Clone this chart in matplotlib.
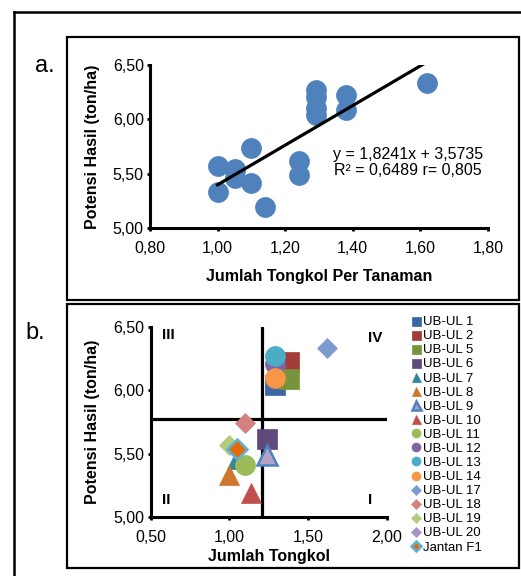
import numpy as np
import matplotlib as mpl
mpl.use('Agg')
import matplotlib.pyplot as plt
from matplotlib.patches import Rectangle
from matplotlib.lines import Line2D
from matplotlib.ticker import FuncFormatter

# -- DATA --------------------------------------------------------------------

genotypes = ['UB-UL 1', 'UB-UL 2', 'UB-UL 5', 'UB-UL 6', 'UB-UL 7', 'UB-UL 8',
             'UB-UL 9', 'UB-UL 10', 'UB-UL 11', 'UB-UL 12', 'UB-UL 13',
             'UB-UL 14', 'UB-UL 17', 'UB-UL 18', 'UB-UL 19', 'UB-UL 20',
             'Jantan F1']
tongkol = [1.29, 1.38, 1.38, 1.24, 1.05, 1.00, 1.24, 1.14, 1.10, 1.29, 1.29,
           1.29, 1.62, 1.10, 1.00, 1.05, 1.05]
hasil = [6.04, 6.22, 6.09, 5.62, 5.46, 5.33, 5.49, 5.19, 5.41, 6.21, 6.27,
         6.10, 6.33, 5.74, 5.57, 5.53, 5.54]

slope, intercept = 1.8241, 3.5735
r2, r = 0.6489, 0.805

# -- STYLE -------------------------------------------------------------------

W, H = 521, 576
plt.rcParams.update({
    'font.family': ['Liberation Sans', 'DejaVu Sans'],
    'font.size': 11.5,
    'axes.linewidth': 2.2,
    'xtick.major.width': 2.0,
    'ytick.major.width': 2.0,
    'xtick.major.size': 2.5,
    'ytick.major.size': 2.5,
    'xtick.labelsize': 11.5,
    'ytick.labelsize': 11.5,
})

markers = ['s', 's', 's', 's', '^', '^', '^', '^', 'o', 'o', 'o', 'o',
           'D', 'D', 'D', 'D', 'D']
faces = ['#3A67A3', '#A33B39', '#77933C', '#604A7B', '#31859C', '#CD772F',
         '#B3A2C7', '#C0504D', '#9BBB59', '#8064A2', '#4BACC6', '#F79646',
         '#7C9CCF', '#D4807E', '#B2CC7D', '#A593C4', '#E36C09']
edges = list(faces)
edges[6] = '#4F81BD'
edges[16] = '#5DB3D5'
edge_w = [0.5] * 17
edge_w[6] = 1.8
edge_w[16] = 1.8
sizes = {'s': 14.4, '^': 14.4, 'o': 14.4, 'D': 10.5}

comma = FuncFormatter(lambda v, p: f"{v:.2f}".replace('.', ','))


def px(x, y):
    return x / W, 1 - y / H


fig = plt.figure(figsize=(W / 100, H / 100), dpi=100)

# frames
fig.add_artist(Line2D([13.5 / W, 1.0], [1 - 12 / H, 1 - 12 / H],
                      transform=fig.transFigure, color='k', lw=1.8))
fig.add_artist(Line2D([13.5 / W, 13.5 / W], [1 - 12 / H, 0.0],
                      transform=fig.transFigure, color='k', lw=1.8))
for (x0, y0, x1, y1) in [(66.7, 37, 518.5, 299.5), (66.7, 303.5, 519, 568)]:
    fig.add_artist(Rectangle(px(x0, y1), (x1 - x0) / W, (y1 - y0) / H,
                             transform=fig.transFigure, fill=False,
                             ec='k', lw=1.6))

fig.text(35 / W, 1 - 71.7 / H, 'a.', fontsize=17, ha='left', va='baseline')
fig.text(25 / W, 1 - 339 / H, 'b.', fontsize=17, ha='left', va='baseline')

ax1 = fig.add_axes([150 / W, 1 - 228 / H, 338 / W, 163 / H])
ax2 = fig.add_axes([150.7 / W, 1 - 517.3 / H, 236 / W, 190.6 / H])

for ax in (ax1, ax2):
    ax.spines['top'].set_visible(False)
    ax.spines['right'].set_visible(False)
    ax.xaxis.set_major_formatter(comma)
    ax.yaxis.set_major_formatter(comma)
    ax.tick_params(axis='x', pad=7)
    ax.tick_params(axis='y', pad=2)
    ax.set_facecolor('none')

# -- PANEL A -----------------------------------------------------------------

ax1.plot(tongkol, hasil, 'o', ms=14.4, color='#4F81BD', mec='#4F81BD',
         mew=0.5, zorder=3)
xl = np.array([min(tongkol), max(tongkol)])
ax1.plot(xl, slope * xl + intercept, color='k', lw=2.3, zorder=4)
ax1.text(1.563, 5.60,
         f"y = {slope:.4f}x + {intercept:.4f}\nR² = {r2:.4f} r= {r:.3f}".replace('.', ','),
         ha='center', va='center', linespacing=1.1, fontsize=11.5)

ax1.set_xlim(0.8, 1.8)
ax1.set_xticks(np.arange(0.8, 1.81, 0.2))
ax1.set_ylim(5.0, 6.5)
ax1.set_yticks(np.arange(5.0, 6.51, 0.5))
ax1.set_xlabel('Jumlah Tongkol Per Tanaman', fontweight='bold', fontsize=11.5)
ax1.set_ylabel('Potensi Hasil (ton/ha)', fontweight='bold', fontsize=11.5)
ax1.xaxis.set_label_coords(0.5, -0.25)
ax1.yaxis.set_label_coords(-0.148, 0.5)

# -- PANEL B -----------------------------------------------------------------

for i, name in enumerate(genotypes):
    m = markers[i]
    ax2.plot([tongkol[i]], [hasil[i]], marker=m, ls='none', ms=sizes[m],
             mfc=faces[i], mec=edges[i], mew=edge_w[i], label=name,
             zorder=3 + i * 0.01)

ax2.axvline(np.mean(tongkol), color='k', lw=2.3, zorder=2)
ax2.axhline(np.mean(hasil), color='k', lw=2.3, zorder=2)

qfont = dict(fontweight='bold', fontsize=11, ha='center', va='center')
ax2.text(0.612, 6.435, 'III', **qfont)
ax2.text(1.926, 6.41, 'IV', **qfont)
ax2.text(0.602, 5.136, 'II', **qfont)
ax2.text(1.894, 5.136, 'I', **qfont)

ax2.set_xlim(0.5, 2.0)
ax2.set_xticks(np.arange(0.5, 2.01, 0.5))
ax2.set_ylim(5.0, 6.5)
ax2.set_yticks(np.arange(5.0, 6.51, 0.5))
ax2.set_xlabel('Jumlah Tongkol', fontweight='bold', fontsize=11.5)
ax2.set_ylabel('Potensi Hasil (ton/ha)', fontweight='bold', fontsize=11.5)
ax2.xaxis.set_label_coords(0.5, -0.166)
ax2.yaxis.set_label_coords(-0.215, 0.5)

ax2.legend(loc='upper left', bbox_to_anchor=px(411.0, 316),
           bbox_transform=fig.transFigure, frameon=False, fontsize=9.5,
           markerscale=0.45, handlelength=0.8, handletextpad=0.1,
           labelspacing=0.14, borderpad=0, borderaxespad=0)

plt.savefig('out.png', dpi=100)
